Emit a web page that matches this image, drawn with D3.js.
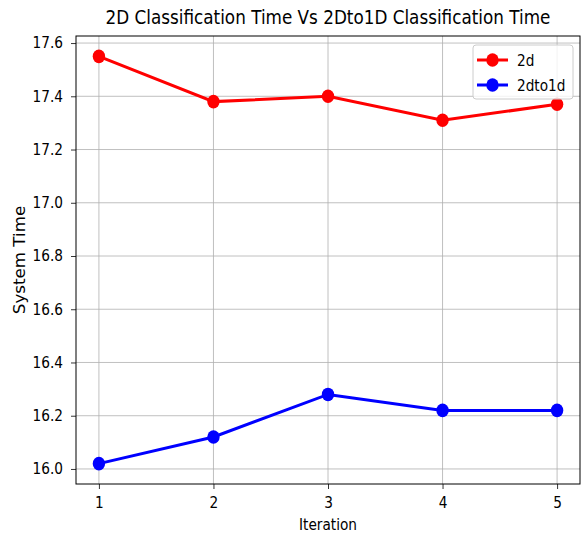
<!DOCTYPE html>
<html>
<head>
<meta charset="utf-8">
<script src="https://cdn.jsdelivr.net/npm/d3@7"></script>
<style>
  body { margin: 0; background: #fff; }
  svg text { font-family: "DejaVu Sans", sans-serif; fill: #000; }
</style>
</head>
<body>
<script>
// data
const iterations = [1, 2, 3, 4, 5];
const time2d = [17.55, 17.38, 17.40, 17.31, 17.37];
const time2dto1d = [16.02, 16.12, 16.28, 16.22, 16.22];
const yTicks = [16.0, 16.2, 16.4, 16.6, 16.8, 17.0, 17.2, 17.4, 17.6];
const seriesNames = ["2d", "2dto1d"];
const seriesColors = ["#ff0000", "#0000ff"];

const width = 582, height = 535;
const margin = {top: 36, right: 2, bottom: 51, left: 76};
const plotW = width - margin.left - margin.right;
const plotH = height - margin.top - margin.bottom;
const sx = 0.9; // the picture's text looks a bit squeezed sideways

const svg = d3.select("body").append("svg")
  .attr("width", width)
  .attr("height", height);

// move x/y into a transform so the text can be squeezed in place
function squeeze(sel) {
  sel.each(function() {
    const t = d3.select(this);
    const tx = +t.attr("x") || 0, ty = +t.attr("y") || 0;
    t.attr("x", 0).attr("y", 0)
      .attr("transform", `translate(${tx},${ty}) scale(${sx},1)`);
  });
}

// matplotlib style 5% margins
const xPad = (d3.max(iterations) - d3.min(iterations)) * 0.05;
const allY = time2d.concat(time2dto1d);
const yPad = (d3.max(allY) - d3.min(allY)) * 0.05;

const x = d3.scaleLinear()
  .domain([d3.min(iterations) - xPad, d3.max(iterations) + xPad])
  .range([0, plotW]);
const y = d3.scaleLinear()
  .domain([d3.min(allY) - yPad, d3.max(allY) + yPad])
  .range([plotH, 0]);

const g = svg.append("g").attr("transform", `translate(${margin.left},${margin.top})`);

// grid
g.append("g").selectAll("line")
  .data(iterations).join("line")
  .attr("x1", d => x(d)).attr("x2", d => x(d))
  .attr("y1", 0).attr("y2", plotH)
  .attr("stroke", "#b0b0b0").attr("stroke-width", 0.8);
g.append("g").selectAll("line")
  .data(yTicks).join("line")
  .attr("y1", d => y(d)).attr("y2", d => y(d))
  .attr("x1", 0).attr("x2", plotW)
  .attr("stroke", "#b0b0b0").attr("stroke-width", 0.8);

// axes
const xAxis = g.append("g")
  .attr("transform", `translate(0,${plotH})`)
  .call(d3.axisBottom(x).tickValues(iterations).tickFormat(d3.format("d")).tickSize(5).tickPadding(8));
const yAxis = g.append("g")
  .call(d3.axisLeft(y).tickValues(yTicks).tickFormat(d3.format(".1f")).tickSize(5).tickPadding(8));
[xAxis, yAxis].forEach(a => {
  a.select(".domain").remove();
  a.selectAll(".tick line").attr("stroke", "#000").attr("stroke-width", 0.8);
  a.selectAll(".tick text")
    .style("font-family", "DejaVu Sans").style("font-size", "15.2px").attr("fill", "#000")
    .call(squeeze);
});

// frame
g.append("rect")
  .attr("x", 0).attr("y", 0).attr("width", plotW).attr("height", plotH)
  .attr("fill", "none").attr("stroke", "#000").attr("stroke-width", 1);

// lines and markers
const series = [time2d, time2dto1d];
const line = d3.line().x((d, i) => x(iterations[i])).y(d => y(d));
series.forEach((vals, s) => {
  g.append("path")
    .datum(vals)
    .attr("d", line)
    .attr("fill", "none")
    .attr("stroke", seriesColors[s])
    .attr("stroke-width", 3);
  g.append("g").selectAll("ellipse")
    .data(vals).join("ellipse")
    .attr("cx", (d, i) => x(iterations[i]))
    .attr("cy", d => y(d))
    .attr("rx", 6.2).attr("ry", 6.8)
    .attr("fill", seriesColors[s]);
});

// title and labels
svg.append("text")
  .attr("x", margin.left + plotW / 2).attr("y", 24)
  .attr("text-anchor", "middle")
  .style("font-size", "18.7px")
  .text("2D Classification Time Vs 2Dto1D Classification Time")
  .call(squeeze);

svg.append("text")
  .attr("x", margin.left + plotW / 2).attr("y", 530)
  .attr("text-anchor", "middle")
  .style("font-size", "15.2px")
  .text("Iteration")
  .call(squeeze);

svg.append("text")
  .attr("transform", `translate(25,${margin.top + plotH / 2}) rotate(-90) scale(1,${sx})`)
  .attr("text-anchor", "middle")
  .style("font-size", "16.7px")
  .text("System Time");

// legend
const legend = svg.append("g").attr("transform", "translate(473,45)");
legend.append("rect")
  .attr("width", 100).attr("height", 54).attr("rx", 3)
  .attr("fill", "#fff").attr("fill-opacity", 0.8)
  .attr("stroke", "#cccccc").attr("stroke-width", 1);
seriesNames.forEach((name, i) => {
  const ly = 15 + i * 25;
  legend.append("line")
    .attr("x1", 4).attr("x2", 35).attr("y1", ly).attr("y2", ly)
    .attr("stroke", seriesColors[i]).attr("stroke-width", 3);
  legend.append("ellipse")
    .attr("cx", 19.5).attr("cy", ly).attr("rx", 6.2).attr("ry", 6.8)
    .attr("fill", seriesColors[i]);
  legend.append("text")
    .attr("x", 44).attr("y", ly + 5.5)
    .style("font-size", "15.2px")
    .text(name)
    .call(squeeze);
});
</script>
</body>
</html>
